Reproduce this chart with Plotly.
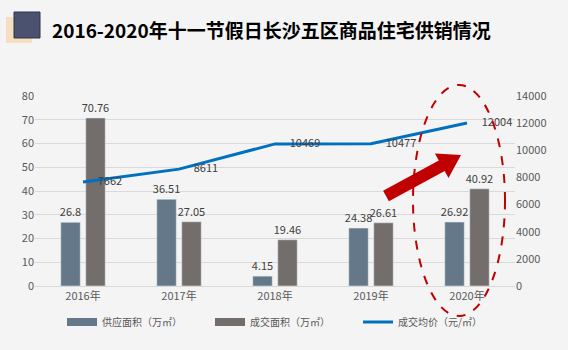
import plotly.graph_objects as go

years = ["2016年", "2017年", "2018年", "2019年", "2020年"]
supply = [26.8, 36.51, 4.15, 24.38, 26.92]
sales = [70.76, 27.05, 19.46, 26.61, 40.92]
price = [7662, 8611, 10469, 10477, 12004]
left_ticks = [0, 10, 20, 30, 40, 50, 60, 70, 80]
right_ticks = [0, 2000, 4000, 6000, 8000, 10000, 12000, 14000]

W, H = 568, 350
L, R, T, B = 35, 515, 96, 286


def px(x):
    return (x - L) / (R - L)


def py(y):
    return (B - y) / (B - T)


FONT = "Noto Sans CJK SC, Microsoft YaHei, sans-serif"
C_SUP, C_SAL, C_LINE = "#657889", "#736e6b", "#0070c0"
fig = go.Figure()
fig.add_trace(go.Bar(x=years, y=supply, name="供应面积（万㎡）", marker_color=C_SUP,
                     text=[f"{v:g}" for v in supply], textposition="outside",
                     constraintext="none", showlegend=False,
                     textfont=dict(size=11, color="#404040"), cliponaxis=False))
fig.add_trace(go.Bar(x=years, y=sales, name="成交面积（万㎡）", marker_color=C_SAL,
                     text=[f"{v:g}" for v in sales], textposition="outside",
                     constraintext="none", showlegend=False,
                     textfont=dict(size=11, color="#404040"), cliponaxis=False))
fig.add_trace(go.Scatter(x=years, y=price, name="成交均价（元/㎡）", yaxis="y2",
                         mode="lines+markers+text", line=dict(color=C_LINE, width=3),
                         marker=dict(size=22, color="rgba(0,0,0,0)"),
                         text=[str(v) for v in price], textposition="middle right",
                         textfont=dict(size=11, color="#404040"), cliponaxis=False,
                         showlegend=False))
# legend entries
for name, col, w in [("供应面积（万㎡）", C_SUP, 8), ("成交面积（万㎡）", C_SAL, 8),
                     ("成交均价（元/㎡）", C_LINE, 3)]:
    fig.add_trace(go.Scatter(x=[None], y=[None], mode="lines", name=name,
                             line=dict(color=col, width=w)))

# arrow polygon (pixel coords converted to paper)
arrow = [(388.9, 201.3), (444.7, 170.9), (448.5, 178.0), (461, 155),
         (435.0, 153.5), (438.8, 160.4), (383.1, 190.8)]
path = "M " + " L ".join(f"{px(x):.4f},{py(y):.4f}" for x, y in arrow) + " Z"

fig.update_layout(
    width=W, height=H,
    margin=dict(l=L, r=W - R, t=T, b=H - B, autoexpand=False),
    paper_bgcolor="#f4f4f4", plot_bgcolor="rgba(0,0,0,0)",
    font=dict(family=FONT, size=11, color="#595959"),
    barmode="group", bargap=0.48, bargroupgap=0.22,
    showlegend=True,
    legend=dict(orientation="h", x=px(62), xanchor="left", y=py(322), yanchor="middle",
                font=dict(size=10, color="#595959"), traceorder="normal",
                itemwidth=30, entrywidth=103, bgcolor="rgba(0,0,0,0)"),
    xaxis=dict(showgrid=False, showline=True, linecolor="#d9d9d9", ticks="",
               tickfont=dict(size=11, color="#595959")),
    yaxis=dict(range=[0, 80], tickvals=left_ticks, showgrid=True, gridcolor="#d9d9d9",
               zeroline=False, tickfont=dict(size=11, color="#595959"), ticklen=0),
    yaxis2=dict(range=[0, 14000], tickvals=right_ticks, ticktext=[str(v) for v in right_ticks],
                overlaying="y", side="right",
                showgrid=False, zeroline=False, tickfont=dict(size=11, color="#595959")),
    shapes=[
        dict(type="rect", xref="paper", yref="paper", x0=px(6), x1=px(32), y0=py(43), y1=py(17),
             fillcolor="#f5dfc0", line=dict(width=0), layer="above"),
        dict(type="rect", xref="paper", yref="paper", x0=px(14), x1=px(40), y0=py(38), y1=py(12),
             fillcolor="#4a5270", line=dict(color="#2f3548", width=1), layer="above"),
        dict(type="circle", xref="paper", yref="paper", x0=px(413), x1=px(505), y0=py(316), y1=py(85),
             line=dict(color="#c00000", width=2, dash="dash"), fillcolor="rgba(0,0,0,0)"),
        dict(type="path", xref="paper", yref="paper", path=path,
             fillcolor="#c00000", line=dict(width=0)),
    ],
    annotations=[
        dict(text="<b>2016-2020年十一节假日长沙五区商品住宅供销情况</b>", xref="paper", yref="paper",
             x=px(50), y=py(29), xanchor="left", yanchor="middle", showarrow=False,
             font=dict(size=19, color="#000000", family=FONT)),
    ],
)

fig.write_html("out.html")
